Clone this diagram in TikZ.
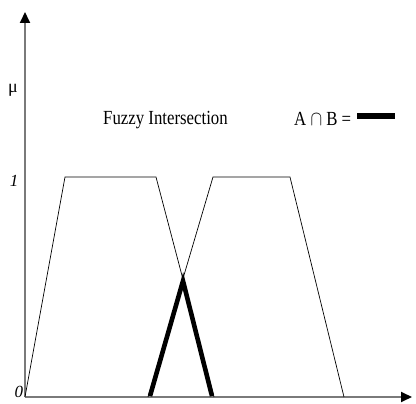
\documentclass[tikz,border=0pt]{standalone}
\usepackage{fontspec}
\setmainfont{Liberation Serif}
\usetikzlibrary{arrows.meta,positioning}
\definecolor{axisgray}{HTML}{7A7A7A}
\tikzset{
  axis/.style={-{Triangle[length=11pt,width=10pt,color=black]}, draw=axisgray, line width=2pt},
  member/.style={draw=black, line width=.7pt},
  meet/.style={draw=black, line width=4.6pt, line join=miter},
  label/.style={font=\fontsize{20}{22}\selectfont, xscale=.84, inner sep=0pt},
  tick/.style={font=\fontsize{17}{19}\selectfont\itshape, inner sep=0pt}
}

\begin{document}
\begin{tikzpicture}[x=1pt,y=-1pt]
\useasboundingbox (0,0) rectangle (416,404);

% Axes
\coordinate (origin) at (25,397);
\coordinate (ytop) at (25,12);
\coordinate (xend) at (412,397);
\draw[axis] (origin) -- (ytop);
\draw[axis] (origin) -- (xend);
\node[tick, font=\fontsize{18}{20}\selectfont] (mu) at (13,90) {μ};
\node[tick] (one) at (14,181) {1};
\node[tick] (zero) at (19,392) {0};

% Fuzzy set A
\coordinate (a1) at (25,397);
\coordinate (a2) at (65,177);
\coordinate (a3) at (156,177);
\coordinate (a4) at (214,397);
\draw[member] (a1) -- (a2) -- (a3) -- (a4);

% Fuzzy set B
\coordinate (b1) at (148,397);
\coordinate (b2) at (213,177);
\coordinate (b3) at (290,177);
\coordinate (b4) at (344,397);
\draw[member] (b1) -- (b2) -- (b3) -- (b4);

% Intersection
\coordinate (peak) at (183,281);
\draw[meet] (150,396) -- (peak) -- (212,396);

% Legend
\node[label, anchor=base west] (title) at (103,125) {Fuzzy Intersection};
\node[label, anchor=base west] (legend) at (294,126) {A $\cap$ B =};
\draw[meet, line width=5.5pt] ([xshift=6pt,yshift=10pt]legend.base east) -- ++(38,0);

\end{tikzpicture}
\end{document}
